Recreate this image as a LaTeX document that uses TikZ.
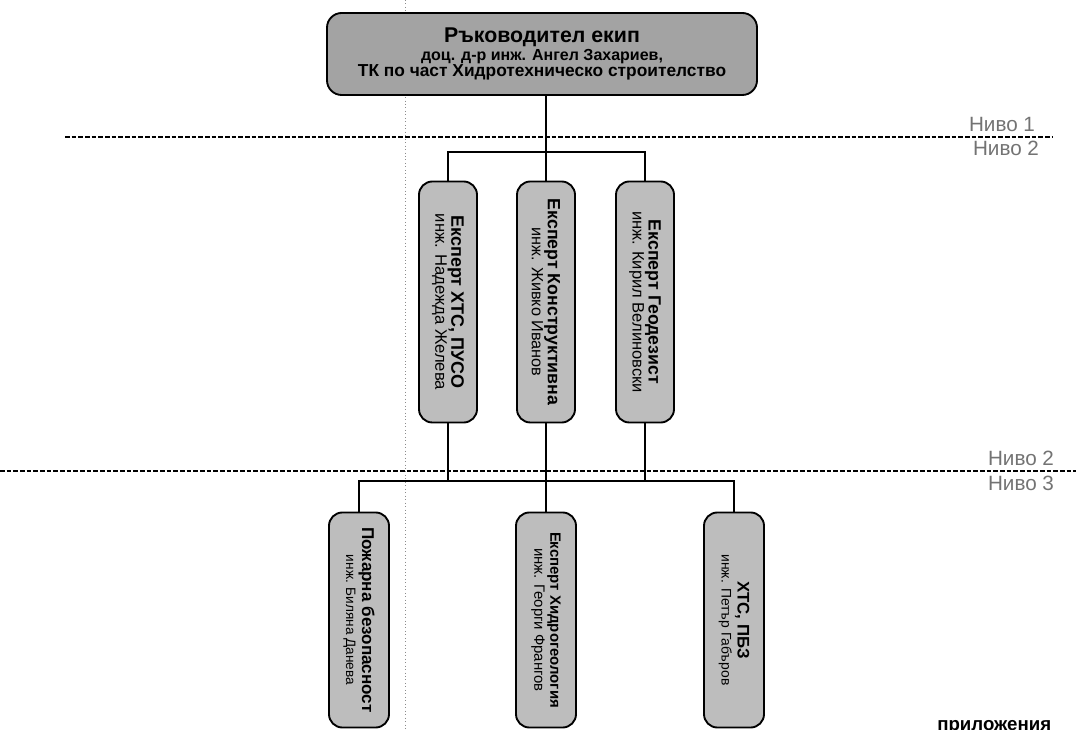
\documentclass[tikz,border=0pt]{standalone}
\usepackage{fontspec}
\setmainfont{Liberation Sans}
\begin{document}
\begin{tikzpicture}[x=0.75pt,y=-0.75pt,
  topbox/.style={draw=black, line width=1.4pt, fill=black!36, rounded corners=11pt, inner sep=0pt, align=center},
  vbox/.style={draw=black, line width=1.4pt, fill=black!26, rounded corners=10pt, inner sep=0pt},
  vtext/.style={rotate=-90, align=center, inner sep=0pt},
  conn/.style={line width=1.1pt},
  lev/.style={dash pattern=on 3.5pt off 1.5pt, line width=0.9pt},
  nivo/.style={text=black!55, inner sep=0pt, font=\fontsize{15.5}{17}\selectfont},
  guide/.style={black!45, dotted, line width=0.6pt}]
\useasboundingbox (0,0) rectangle (1079,730);
% faint vertical guide
\coordinate (va) at (405,0);
\coordinate (vb) at (405,730);
\draw[guide] (va) -- (vb);
% level separators
\coordinate (l1a) at (65,137);
\coordinate (l1b) at (1053,137);
\coordinate (l2a) at (0,471);
\coordinate (l2b) at (1076,471);
\draw[lev] (l1a) -- (l1b);
\draw[lev] (l2a) -- (l2b);
\node[nivo] (n1) at (1002,124) {Ниво 1};
\node[nivo] (n2) at (1006,148) {Ниво 2};
\node[nivo] (n3) at (1021,458) {Ниво 2};
\node[nivo] (n4) at (1021,483) {Ниво 3};
% bus coordinates
\coordinate (bus1) at (546,152);
\coordinate (bus2) at (546,481);
% top box
\node[topbox, minimum width=322.5pt, minimum height=61.5pt] (top) at (542,54)
  {\fontsize{16}{16}\bfseries Ръководител екип\\[1pt]
   \fontsize{12}{14}\bfseries доц. д-р инж. Ангел Захариев,\\
   \fontsize{13}{14}\bfseries ТК по част Хидротехническо строителство};
% level 2
\node[vbox, minimum width=43.5pt, minimum height=180.75pt] (b21) at (448,302) {};
\node[vbox, minimum width=43.5pt, minimum height=180.75pt] (b22) at (546,302) {};
\node[vbox, minimum width=43.5pt, minimum height=180.75pt] (b23) at (645,302) {};
\node[vtext] (t21) at (b21) {\fontsize{13.5}{15}\bfseries Експерт ХТС, ПУСО\\ \fontsize{12.5}{14}\mdseries инж. Надежда Желева};
\node[vtext] (t22) at (b22) {\fontsize{13.3}{15}\bfseries Експерт Конструктивна\\ \fontsize{12.2}{14}\mdseries инж. Живко Иванов};
\node[vtext] (t23) at (b23) {\fontsize{13.3}{15}\bfseries Експерт Геодезист\\ \fontsize{12.4}{14}\mdseries инж. Кирил Велиновски};
% level 3
\node[vbox, minimum width=45pt, minimum height=161.25pt] (b31) at (359,620) {};
\node[vbox, minimum width=45pt, minimum height=161.25pt] (b32) at (546,620) {};
\node[vbox, minimum width=45pt, minimum height=161.25pt] (b33) at (734,620) {};
\node[vtext] (t31) at (b31) {\fontsize{12.8}{14.5}\bfseries Пожарна безопасност\\ \fontsize{10.2}{13}\mdseries инж. Биляна Данева};
\node[vtext] (t32) at (b32) {\fontsize{11.2}{14.5}\bfseries Експерт Хидрогеология\\ \fontsize{11.2}{13}\mdseries инж. Георги Франгов};
\node[vtext] (t33) at (b33) {\fontsize{12.6}{14.5}\bfseries ХТС, ПБЗ\\ \fontsize{10.4}{13}\mdseries инж. Петър Габъров};
% connectors
\draw[conn] (top.south -| b22.north) -- (b22.north);
\draw[conn] (b21.north) |- (bus1) -| (b23.north);
\draw[conn] (b22.south) -- (b32.north);
\draw[conn] (b21.south) -- (b21.south |- bus2);
\draw[conn] (b23.south) -- (b23.south |- bus2);
\draw[conn] (b31.north) |- (bus2) -| (b33.north);
% cut-off caption at bottom right (the reference shows only its upper part)
\begin{scope}
\clip (0,0) rectangle (1079,730);
\node[anchor=north west, inner sep=0pt, font=\fontsize{14}{14}\bfseries] (pril) at (937,720) {приложения};
\end{scope}
\end{tikzpicture}
\end{document}
